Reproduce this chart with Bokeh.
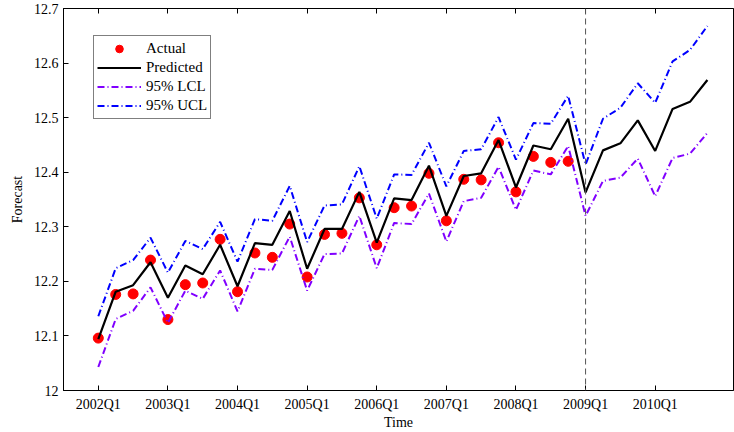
from bokeh.plotting import figure
from bokeh.models import (Range1d, FixedTicker, LinearAxis, Span, Legend, LegendItem,
                          CustomJSTickFormatter)
from bokeh.embed import file_html
from bokeh.resources import INLINE

quarters = [f"{y}Q{q}" for y in range(2002, 2011) for q in range(1, 5)]

actual = [12.096, 12.176, 12.177, 12.239, 12.130, 12.194, 12.197, 12.277,
          12.181, 12.252, 12.244, 12.305, 12.208, 12.286, 12.288, 12.353,
          12.267, 12.335, 12.338, 12.398, 12.311, 12.387, 12.386, 12.454,
          12.364, 12.429, 12.418, 12.420]

predicted = [12.094, 12.181, 12.193, 12.235, 12.170, 12.229, 12.213, 12.267,
             12.191, 12.270, 12.267, 12.329, 12.223, 12.296, 12.296, 12.364,
             12.271, 12.352, 12.349, 12.412, 12.320, 12.393, 12.398, 12.459,
             12.372, 12.449, 12.442, 12.498, 12.363, 12.440, 12.453, 12.495,
             12.439, 12.516, 12.529, 12.569]

lcl = [12.043, 12.131, 12.146, 12.189, 12.124, 12.183, 12.168, 12.220,
       12.145, 12.223, 12.221, 12.282, 12.183, 12.250, 12.251, 12.320,
       12.224, 12.307, 12.305, 12.361, 12.273, 12.347, 12.353, 12.410,
       12.331, 12.403, 12.396, 12.448, 12.320, 12.384, 12.390, 12.425,
       12.356, 12.426, 12.434, 12.472]

ucl = [12.136, 12.224, 12.239, 12.280, 12.216, 12.274, 12.259, 12.309,
       12.236, 12.314, 12.311, 12.375, 12.272, 12.339, 12.341, 12.411,
       12.315, 12.396, 12.395, 12.454, 12.374, 12.439, 12.442, 12.501,
       12.423, 12.490, 12.489, 12.540, 12.414, 12.498, 12.518, 12.563,
       12.527, 12.603, 12.624, 12.668]

tick_labels = ["2002Q1", "2003Q1", "2004Q1", "2005Q1", "2006Q1",
               "2007Q1", "2008Q1", "2009Q1", "2010Q1"]
forecast_start = "2009Q1"
y_ticks = [12.0, 12.1, 12.2, 12.3, 12.4, 12.5, 12.6, 12.7]

FONT = "Liberation Serif"

x_all = list(range(len(quarters)))
x_act = x_all[:len(actual)]
tick_pos = [quarters.index(t) for t in tick_labels]

p = figure(width=734, height=432, output_backend="svg", toolbar_location=None,
           x_range=Range1d(-2, 36.5), y_range=Range1d(12.0, 12.7),
           min_border_left=63, min_border_right=1, min_border_top=8,
           min_border_bottom=40)
p.background_fill_color = "white"
p.border_fill_color = "white"
p.outline_line_color = "black"
p.outline_line_width = 1
p.xgrid.visible = False
p.ygrid.visible = False

# axes
p.xaxis.ticker = FixedTicker(ticks=tick_pos)
p.xaxis.major_label_overrides = {i: l for i, l in zip(tick_pos, tick_labels)}
p.yaxis.ticker = FixedTicker(ticks=y_ticks)
p.yaxis.formatter = CustomJSTickFormatter(code="return String(Math.round(tick*10)/10);")
for ax in (p.xaxis[0], p.yaxis[0]):
    ax.major_tick_in = 5
    ax.major_tick_out = 0
    ax.minor_tick_line_color = None
    ax.axis_line_color = "black"
    ax.major_label_text_font = FONT
    ax.major_label_text_font_size = "14px"
    ax.major_label_text_color = "black"
    ax.axis_label_text_font = FONT
    ax.axis_label_text_font_size = "14px"
    ax.axis_label_text_font_style = "normal"
    ax.axis_label_text_color = "black"
p.xaxis.axis_label = "Time"
p.yaxis.axis_label = "Forecast"
p.xaxis.major_label_standoff = 6
p.xaxis.axis_label_standoff = 0
p.yaxis.major_label_standoff = 5
p.yaxis.axis_label_standoff = 6

# top axis: ticks only (matlab-style box)
top = LinearAxis(ticker=FixedTicker(ticks=tick_pos), major_tick_in=5, major_tick_out=0,
                 minor_tick_line_color=None, major_label_standoff=0,
                 axis_line_color="black",
                 formatter=CustomJSTickFormatter(code="return '';"))
p.add_layout(top, "above")

# forecast start line
p.add_layout(Span(location=quarters.index(forecast_start), dimension="height",
                  line_color="#555555", line_dash="6 4", line_width=1))

r_act = p.scatter(x_act, actual, size=10, color="red", line_color="red")
r_pred = p.line(x_all, predicted, line_color="black", line_width=2.2)
r_lcl = p.line(x_all, lcl, line_color="#8000ff", line_width=2, line_dash="7 3 1 3")
r_ucl = p.line(x_all, ucl, line_color="#0000ff", line_width=2, line_dash="7 3 1 3")

legend = Legend(items=[LegendItem(label="Actual", renderers=[r_act]),
                       LegendItem(label="Predicted", renderers=[r_pred]),
                       LegendItem(label="95% LCL", renderers=[r_lcl]),
                       LegendItem(label="95% UCL", renderers=[r_ucl])],
                location=(30, 271), orientation="vertical")
legend.label_text_font = FONT
legend.label_text_font_size = "15px"
legend.label_text_color = "black"
legend.border_line_color = "black"
legend.border_line_width = 1
legend.background_fill_color = "white"
legend.background_fill_alpha = 1
legend.padding = 3
legend.spacing = 0
legend.margin = 0
legend.glyph_width = 44
legend.glyph_height = 19
legend.label_height = 19
legend.label_standoff = 5
p.add_layout(legend, "center")

open("out.html", "w").write(file_html(p, INLINE))
